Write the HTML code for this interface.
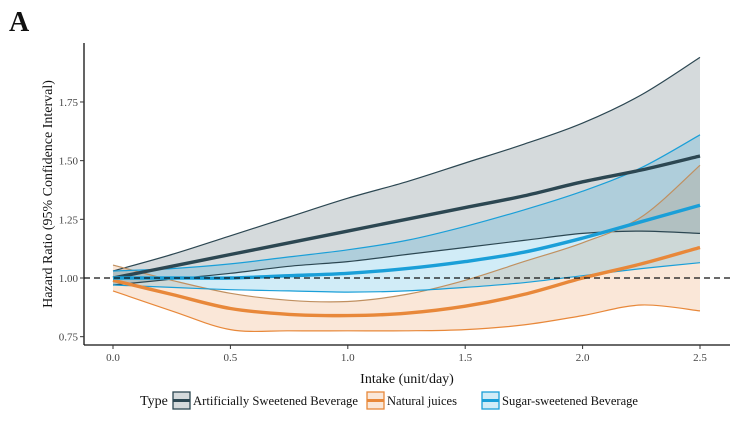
<!DOCTYPE html>
<html><head><meta charset="utf-8"><style>
body{margin:0;background:#fff}
svg{display:block;font-family:"Liberation Serif",serif}
</style></head><body>
<svg id="c" width="742" height="424" viewBox="0 0 742 424">
<text x="9" y="31" font-size="28" font-weight="bold" fill="#111">A</text>
<g id="plot"></g>
</svg>
<script>
const xs=[0,0.25,0.5,0.75,1,1.25,1.5,1.75,2,2.25,2.5];
const asbMean=[1.00,1.05,1.10,1.15,1.20,1.25,1.30,1.35,1.41,1.46,1.52];
const asbUp=[1.03,1.10,1.18,1.26,1.34,1.41,1.49,1.57,1.66,1.78,1.94];
const asbLo=[0.97,0.995,1.02,1.05,1.07,1.10,1.13,1.16,1.19,1.20,1.19];
const njMean=[0.99,0.93,0.87,0.845,0.84,0.85,0.88,0.93,1.00,1.06,1.13];
const njUp=[1.055,0.99,0.935,0.905,0.90,0.93,0.99,1.07,1.15,1.26,1.48];
const njLo=[0.945,0.86,0.78,0.775,0.775,0.775,0.78,0.80,0.84,0.885,0.86];
const ssbMean=[1.00,1.00,1.00,1.01,1.02,1.04,1.07,1.11,1.17,1.24,1.31];
const ssbUp=[1.03,1.04,1.06,1.09,1.12,1.16,1.22,1.29,1.37,1.47,1.61];
const ssbLo=[0.97,0.96,0.95,0.945,0.94,0.945,0.96,0.98,1.01,1.04,1.065];
const xTicks=[0,0.5,1,1.5,2,2.5];
const xTickLabels=["0.0","0.5","1.0","1.5","2.0","2.5"];
const yTicks=[0.75,1,1.25,1.5,1.75];
const yTickLabels=["0.75","1.00","1.25","1.50","1.75"];

const X=v=>113+v*234.8, Y=v=>278-(v-1)*234.7;
const NS="http://www.w3.org/2000/svg";
const g=document.getElementById('plot');
function mk(t,a,p){const e=document.createElementNS(NS,t);for(const k in a)e.setAttribute(k,a[k]);(p||g).appendChild(e);return e;}
function pts(arr){return arr.map((v,i)=>[X(xs[i]),Y(v)]);}
function curve(p,move){let d=(move?"M":"L")+p[0][0].toFixed(1)+","+p[0][1].toFixed(1);
 for(let i=0;i<p.length-1;i++){const p0=p[i-1]||p[i],p1=p[i],p2=p[i+1],p3=p[i+2]||p2;
 d+=" C"+(p1[0]+(p2[0]-p0[0])/6).toFixed(1)+","+(p1[1]+(p2[1]-p0[1])/6).toFixed(1)+" "+(p2[0]-(p3[0]-p1[0])/6).toFixed(1)+","+(p2[1]-(p3[1]-p1[1])/6).toFixed(1)+" "+p2[0].toFixed(1)+","+p2[1].toFixed(1);}
 return d;}
function band(up,lo,fill,name){const d=curve(pts(up),true)+" "+curve(pts(lo).reverse(),false)+"Z";
 const e=mk('path',{d:d,fill:fill,'fill-opacity':0.2,stroke:'none'});
 
 }
function line(arr,col,w,name){const e=mk('path',{d:curve(pts(arr),true),fill:'none',stroke:col,'stroke-width':w});
 
 }
const cA="#2c4752",cN="#e8883a",cS="#1a9fd8";
band(asbUp,asbLo,cA,'asb-ci-band');band(njUp,njLo,cN,'nj-ci-band');band(ssbUp,ssbLo,cS,'ssb-ci-band');
line(asbUp,cA,1.2,'asb-upper');line(asbLo,cA,1.2,'asb-lower');
line(njUp,"#c09060",1.2,'nj-upper');line(njLo,cN,1.2,'nj-lower');
line(ssbUp,cS,1.2,'ssb-upper');line(ssbLo,cS,1.2,'ssb-lower');
line(asbMean,cA,3.4,'asb-mean-line');line(njMean,cN,3.4,'nj-mean-line');line(ssbMean,cS,3.4,'ssb-mean-line');
let r=mk('line',{x1:84,x2:730,y1:Y(1),y2:Y(1),stroke:'#111','stroke-width':1.3,'stroke-dasharray':'6,4'});

let ax=mk('line',{x1:84,x2:84,y1:43,y2:345,stroke:'#111','stroke-width':1.3});

ax=mk('line',{x1:84,x2:730,y1:345,y2:345,stroke:'#111','stroke-width':1.3});

xTicks.forEach((v,i)=>{mk('line',{x1:X(v),x2:X(v),y1:345,y2:349,stroke:'#333'});
 const t=mk('text',{x:X(v),y:361,'font-size':11,fill:'#444','text-anchor':'middle'});t.textContent=xTickLabels[i];
 });
yTicks.forEach((v,i)=>{mk('line',{x1:80,x2:84,y1:Y(v),y2:Y(v),stroke:'#333'});
 const t=mk('text',{x:78,y:Y(v)+4,'font-size':11,fill:'#444','text-anchor':'end'});t.textContent=yTickLabels[i];
 });
let t=mk('text',{x:407,y:383,'font-size':14,fill:'#111','text-anchor':'middle'});t.textContent="Intake (unit/day)";

t=mk('text',{x:0,y:0,'font-size':14,fill:'#111','text-anchor':'middle',transform:'translate(52,194) rotate(-90)'});t.textContent="Hazard Ratio (95% Confidence Interval)";

t=mk('text',{x:140,y:405,'font-size':14,fill:'#111'});t.textContent="Type";

const legNames=["Artificially Sweetened Beverage","Natural juices","Sugar-sweetened Beverage"];
const legCols=[cA,cN,cS];const legX=[173,367,482];const legW=[165,70,136];
legNames.forEach((n,i)=>{const lg=mk('g',{});
 
 mk('rect',{x:legX[i],y:392,width:17,height:17,fill:legCols[i],'fill-opacity':0.2,stroke:legCols[i],'stroke-width':1.3},lg);
 mk('line',{x1:legX[i],x2:legX[i]+17,y1:400.5,y2:400.5,stroke:legCols[i],'stroke-width':3},lg);
 const tt=mk('text',{x:legX[i]+20,y:405,'font-size':13,fill:'#111',textLength:legW[i],lengthAdjust:'spacingAndGlyphs'},lg);tt.textContent=n;});
</script>
</body></html>
